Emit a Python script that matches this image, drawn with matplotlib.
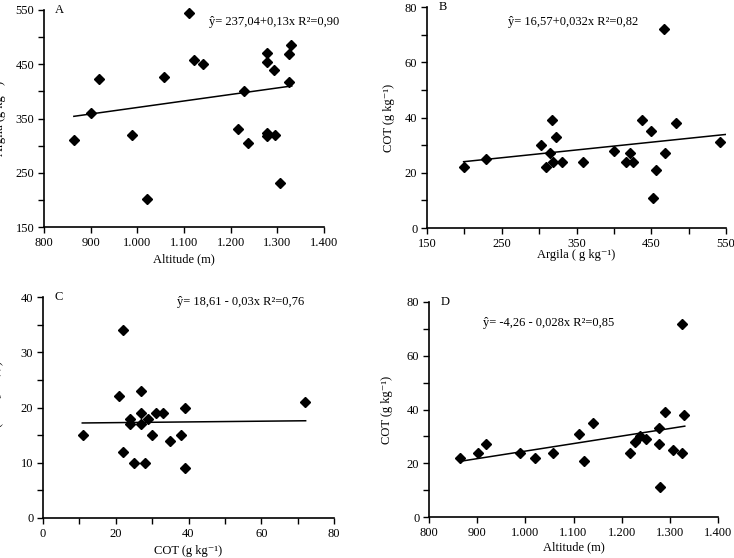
import matplotlib as mpl
mpl.use('Agg')
import matplotlib.pyplot as plt
from matplotlib.ticker import MultipleLocator, FuncFormatter

# ── data ──────────────────────────────────────────────────────────────────
# A: Altitude (m) x Argila (g/kg)
alt_a = [864, 900, 917, 989, 1020, 1057, 1111, 1121, 1141, 1216, 1228, 1238,
         1277, 1278, 1277, 1278, 1293, 1294, 1306, 1324, 1324, 1330]
arg_a = [311, 360, 423, 320, 201, 427, 544, 458, 451, 331, 400, 304,
         470, 454, 317, 323, 440, 319, 231, 468, 418, 485]
fit_a_x = [864, 1331]
fit_a_y = [354, 410]

# B: Argila x COT
arg_b = [199, 229, 302, 315, 309, 317, 319, 322, 330, 359, 400, 416,
         421, 426, 438, 450, 453, 456, 467, 469, 483, 542]
cot_b = [22, 25, 30, 27, 22, 39, 24, 33, 24, 24, 28, 24,
         27, 24, 39, 35, 11, 21, 72, 27, 38, 31]
fit_b_x = [199, 551]
fit_b_y = [24.0, 33.9]

# C: COT x CTC
cot_c = [11, 21, 22, 22, 24, 24, 25, 27, 27, 27, 29, 30, 31, 28, 33, 35,
         38, 39, 39, 72]
ctc_c = [15, 22, 34, 12, 18, 17, 10, 23, 19, 17, 18, 15, 19, 10, 19, 14,
         15, 20, 9, 21]
fit_c_x = [10.8, 72.2]
fit_c_y = [17.2, 17.6]

# D: Altitude x COT
alt_d = [864, 901, 918, 988, 1020, 1057, 1112, 1122, 1141, 1217, 1228, 1239,
         1251, 1278, 1278, 1280, 1291, 1306, 1325, 1325, 1329]
cot_d = [22, 24, 27, 24, 22, 24, 31, 21, 35, 24, 28, 30,
         29, 33, 27, 11, 39, 25, 72, 24, 38]
fit_d_x = [864, 1331]
fit_d_y = [20.7, 33.8]

# ── style ────────────────────────────────────────────────────────────────
plt.rcParams.update({
    'font.family': ['Liberation Serif', 'DejaVu Serif'],
    'font.size': 9,
    'mathtext.fontset': 'custom',
    'mathtext.rm': 'Liberation Serif',
    'mathtext.it': 'Liberation Serif:italic',
    'axes.linewidth': 1.2,
    'axes.spines.top': False,
    'axes.spines.right': False,
    'xtick.direction': 'out',
    'ytick.direction': 'out',
    'xtick.major.size': 4,
    'ytick.major.size': 4,
    'xtick.minor.size': 4,
    'ytick.minor.size': 4,
    'xtick.major.width': 1.0,
    'ytick.major.width': 1.0,
    'xtick.minor.width': 1.0,
    'ytick.minor.width': 1.0,
})

W, H = 734, 558


def rect(x0, y0, x1, y1):
    # pixel box (left, top, right, bottom) -> figure fraction
    return [x0 / W, 1 - y1 / H, (x1 - x0) / W, (y1 - y0) / H]


def dot_thousands(v, pos):
    return f'{int(round(v)):,}'.replace(',', '.')


def panel(ax, x, y, fx, fy, letter, eq, eq_xy, xlim, ylim, xmaj, xmin, ymaj, ymin,
          xlabel, ylabel, xl_pos, yl_pos, thousands=False, xoff=0, yoff=0):
    ax.plot(x, y, 'D', color='black', markersize=4.8, clip_on=False)
    ax.plot(fx, fy, '-', color='black', linewidth=1.1)
    ax.set_xlim(*xlim)
    ax.set_ylim(*ylim)
    ax.xaxis.set_major_locator(MultipleLocator(xmaj, offset=xoff))
    if xmin:
        ax.xaxis.set_minor_locator(MultipleLocator(xmin))
    ax.yaxis.set_major_locator(MultipleLocator(ymaj, offset=yoff))
    ax.yaxis.set_minor_locator(MultipleLocator(ymin))
    if thousands:
        ax.xaxis.set_major_formatter(FuncFormatter(dot_thousands))
    ax.tick_params(pad=3, labelsize=9)
    ax.set_xlabel(xlabel, fontsize=9)
    ax.set_ylabel(ylabel, fontsize=9)
    ax.xaxis.set_label_coords(0.5, xl_pos)
    ax.yaxis.set_label_coords(yl_pos, 0.5)
    ax.text(0.04, 1.0, letter, transform=ax.transAxes, ha='left', va='center',
            fontsize=9)
    ax.text(eq_xy[0], eq_xy[1], eq, transform=ax.transAxes, ha='left',
            va='center', fontsize=9)


fig = plt.figure(figsize=(W / 100, H / 100), dpi=100)

axA = fig.add_axes(rect(44, 10, 324, 227))
panel(axA, alt_a, arg_a, fit_a_x, fit_a_y, 'A',
      'ŷ= 237,04+0,13x R²=0,90', (0.589, 0.945),
      (800, 1400), (150, 550), 100, None, 100, 50,
      'Altitude (m)', 'Argila (g kg⁻¹)', -0.12, -0.136,
      thousands=True, yoff=50)

axB = fig.add_axes(rect(427, 7, 726, 228))
panel(axB, arg_b, cot_b, fit_b_x, fit_b_y, 'B',
      'ŷ= 16,57+0,032x R²=0,82', (0.271, 0.932),
      (150, 550), (0, 80), 100, 50, 20, 10,
      'Argila ( g kg⁻¹)', 'COT (g kg⁻¹)', -0.095, -0.107, xoff=50)

axC = fig.add_axes(rect(43, 297, 334, 518))
panel(axC, cot_c, ctc_c, fit_c_x, fit_c_y, 'C',
      'ŷ= 18,61 - 0,03x R²=0,76', (0.46, 0.977),
      (0, 80), (0, 40), 20, 10, 10, 5,
      'COT (g kg⁻¹)', 'CTC (cmol$_{\\rm c}$ dm⁻³)', -0.12, -0.127)

axD = fig.add_axes(rect(429, 302, 718, 517))
panel(axD, alt_d, cot_d, fit_d_x, fit_d_y, 'D',
      'ŷ= -4,26 - 0,028x R²=0,85', (0.187, 0.902),
      (800, 1400), (0, 80), 100, None, 20, 10,
      'Altitude (m)', 'COT (g kg⁻¹)', -0.112, -0.125, thousands=True)

fig.savefig('out.png', dpi=100)
